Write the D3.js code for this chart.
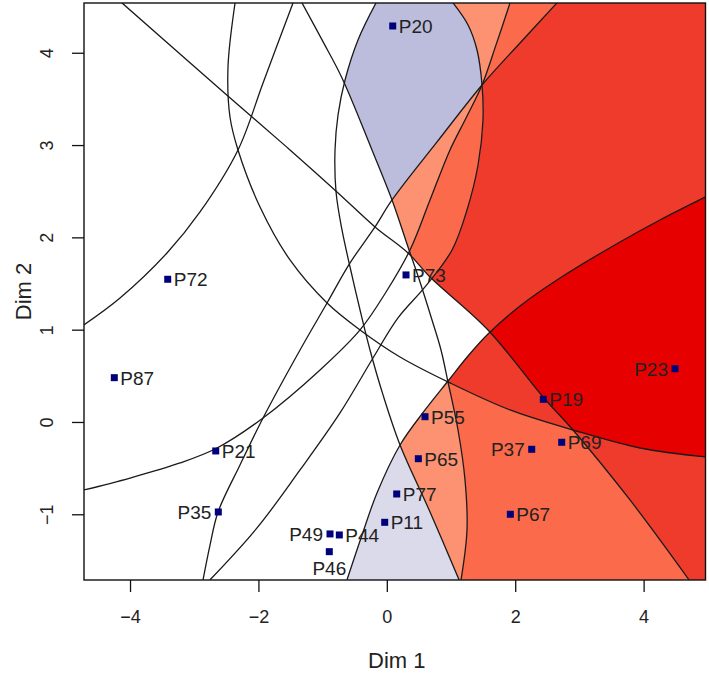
<!DOCTYPE html>
<html><head><meta charset="utf-8">
<script src="https://cdn.jsdelivr.net/npm/d3@7"></script>
<style>body{margin:0;background:#fff}text{font-family:"Liberation Sans",Arial,sans-serif}</style>
</head><body>
<svg id="chart" width="709" height="673"></svg>
<script>
// ---- data ----
const products = ["P20","P72","P87","P21","P35","P49","P44","P46","P11","P77","P65","P55","P73","P37","P69","P19","P67","P23"];
const dim1 = [0.092,-3.413,-4.245,-2.665,-2.625,-0.885,-0.740,-0.896,-0.033,0.154,0.491,0.595,0.299,2.257,2.724,2.438,1.924,4.489];
const dim2 = [4.290,1.546,0.480,-0.314,-0.975,-1.213,-1.224,-1.405,-1.087,-0.780,-0.398,0.057,1.593,-0.296,-0.220,0.246,-1.000,0.577];
const labelSide = ["right","right","right","right","left","left","right","below","right","right","right","right","right","left","right","right","right","left"];

const xTicks = [-4,-2,0,2,4];
const yTicks = [-1,0,1,2,3,4];

// contour curves (Dim 1, Dim 2)
const c1 = [[-4.125,4.54],[-2.458,3.521],[-1.508,2.947],[-0.776,2.492],[-0.184,2.113],[0.330,1.831],[0.673,1.571],[1.576,0.997],[2.433,0.271],[2.900,-0.087],[3.788,-0.845],[4.707,-1.71]];
const c3 = [[-2.364,4.54],[-2.474,3.846],[-2.443,3.304],[-2.318,2.947],[-1.975,2.329],[-1.508,1.755],[-0.931,1.289],[-0.417,0.997],[0.206,0.704],[0.984,0.423],[1.919,0.130],[2.900,-0.087],[3.944,-0.282],[4.965,-0.379]];
const c4 = [[-4.72,1.051],[-4.156,1.343],[-3.424,1.831],[-2.910,2.275],[-2.318,2.947],[-1.928,3.673],[-1.461,4.54]];
const c5 = [[-0.169,4.54],[-0.449,4.139],[-0.651,3.705],[-0.760,3.326],[-0.807,2.947],[-0.791,2.492],[-0.698,2.080],[-0.573,1.679],[-0.417,1.213],[-0.262,0.780],[-0.059,0.293],[0.206,-0.249],[0.673,-0.975],[1.125,-1.71]];
const c7 = [[-1.321,4.54],[-1.009,4.139],[-0.698,3.727],[-0.231,2.947],[0.081,2.405],[0.330,1.896],[0.517,1.517],[0.704,1.105],[0.844,0.780],[0.953,0.433],[1.109,-0.087],[1.218,-0.628],[1.249,-1.170],[1.156,-1.71]];
const c8 = [[-2.863,-1.71],[-2.754,-1.333],[-2.629,-0.975],[-2.287,-0.466],[-1.928,0.043],[-1.352,0.780],[-0.931,1.289],[-0.573,1.723],[-0.184,2.113],[0.081,2.405],[0.782,3.034],[1.483,3.651],[2.075,4.106],[2.651,4.54]];
const c9 = [[1.031,4.54],[1.265,4.301],[1.405,4.030],[1.483,3.651],[1.498,3.272],[1.421,2.784],[1.249,2.297],[1.016,1.863],[0.595,1.463],[0.174,1.127],[-0.215,0.693],[-0.729,0.098],[-1.352,-0.520],[-2.022,-1.148],[-2.754,-1.71]];
const c10 = [[1.919,4.54],[1.701,4.085],[1.483,3.651],[1.234,3.294],[0.984,2.947],[0.673,2.405],[0.361,1.863],[-0.012,1.408],[-0.417,0.997],[-1.040,0.563],[-1.928,0.043],[-2.645,-0.282],[-3.221,-0.444],[-4.000,-0.607],[-4.72,-0.737]];
const c11 = [[-0.620,-1.71],[-0.386,-1.224],[-0.153,-0.769],[0.206,-0.249],[0.595,0.130],[0.953,0.444],[1.265,0.715],[1.576,0.953],[2.075,1.257],[2.698,1.560],[3.632,1.950],[4.255,2.188],[4.965,2.438]];

const curveNames = ["c1","c3","c4","c5","c7","c8","c9","c10","c11"];
const curves = {c1,c3,c4,c5,c7,c8,c9,c10,c11};

// coloured zones: fill + the sides of curves (side = the one holding the named product)
const regionFills = ["#EF3B2C","#EF3B2C","#E60000","#FB6A4A","#FC9272","#DADAEB","#BCBDDC","#FC9272","#FC9272","#FB6A4A","#FB6A4A"];
const regionSides = [
  [["c1","P23"],["c8","P23"],["c9","P23"]],
  [["c11","P23"],["c3","P20"]],
  [["c11","P23"],["c3","P20"],["c1","P23"]],
  [["c11","P23"],["c3","P37"],["c1","P37"],["c7","P37"]],
  [["c11","P23"],["c5","P65"],["c7","P65"]],
  [["c11","P23"],["c5","P77"]],
  [["c9","P20"],["c8","P20"],["c7","P37"],["c5","P65"]],
  [["c9","P23"],["c10","P20"],["c8","P20"]],
  [["c8","P23"],["c10","P20"],["c7","P37"],["c9","P20"]],
  [["c10","P23"],["c8","P20"],["c1","P23"]],
  [["c10","P23"],["c9","P20"],["c8","P23"],["c1","P23"]]
];

// ---- layout ----
const svg = d3.select("#chart");
const x0 = 84, x1 = 705.5, y0 = 3, y1 = 580;
const x = d3.scaleLinear().domain([-4.717, 4.964]).range([x0, x1]);
const y = d3.scaleLinear().domain([-1.712, 4.539]).range([y1, y0]);
const lineGen = d3.line().x(d => d[0]).y(d => d[1]).curve(d3.curveCatmullRom.alpha(0.5));

const defs = svg.append("defs");
defs.append("clipPath").attr("id","plotclip").append("rect")
  .attr("x",x0).attr("y",y0).attr("width",x1-x0).attr("height",y1-y0);

const cornerPts = [[x0-6,y0-6],[x1+6,y0-6],[x1+6,y1+6],[x0-6,y1+6]];
function tOf(p){
  const [px,py]=p, Wd=x1-x0, Hd=y1-y0;
  const d=[Math.abs(py-y0),Math.abs(px-x1),Math.abs(py-y1),Math.abs(px-x0)];
  const e=d.indexOf(Math.min(...d));
  if(e===0) return (px-x0)/Wd;
  if(e===1) return 1+(py-y0)/Hd;
  if(e===2) return 2+(x1-px)/Wd;
  return 3+(y1-py)/Hd;
}
function walk(pts, dir){
  const tE=tOf(pts[pts.length-1]), tS=tOf(pts[0]), out=[];
  if(dir>0){ const target = tS>tE ? tS : tS+4; for(let k=Math.floor(tE)+1;k<target;k++) out.push(cornerPts[k%4]); }
  else { const target = tS<tE ? tS : tS-4; for(let k=Math.ceil(tE)-1;k>target;k--) out.push(cornerPts[((k%4)+4)%4]); }
  return out;
}
const made = {};
function sideClip(cn, ref){
  const key = cn+"_"+ref;
  if(made[key]) return key;
  const pts = curves[cn].map(d=>[x(d[0]),y(d[1])]);
  const i = products.indexOf(ref);
  const rp = [x(dim1[i]), y(dim2[i])];
  let corners = walk(pts, 1);
  if(!d3.polygonContains(pts.concat(corners), rp)) corners = walk(pts, -1);
  const d = lineGen(pts) + corners.map(c=>"L"+c[0]+","+c[1]).join("") + "Z";
  defs.append("clipPath").attr("id",key).append("path").attr("d",d);
  made[key]=true;
  return key;
}

const plotG = svg.append("g").attr("clip-path","url(#plotclip)");
plotG.append("rect").attr("x",x0).attr("y",y0).attr("width",x1-x0).attr("height",y1-y0).attr("fill","#fff");

regionSides.forEach((sides, ri)=>{
  let g = plotG;
  sides.forEach(([cn,ref])=>{ g = g.append("g").attr("clip-path",`url(#${sideClip(cn,ref)})`); });
  g.append("rect").attr("x",x0-10).attr("y",y0-10).attr("width",x1-x0+20).attr("height",y1-y0+20)
    .attr("fill",regionFills[ri]);
});

// contour curves
plotG.selectAll("path.curve").data(curveNames).join("path").attr("class","curve")
  .attr("d", cn => lineGen(curves[cn].map(d=>[x(d[0]),y(d[1])])))
  .attr("fill","none").attr("stroke","#1a1a1a").attr("stroke-width",1.3);

// product points
const pts = products.map((p,i)=>({p, vx:dim1[i], vy:dim2[i], side:labelSide[i]}));
plotG.selectAll("rect.pt").data(pts).join("rect").attr("class","pt")
  .attr("x",d=>x(d.vx)-3.5).attr("y",d=>y(d.vy)-3.5).attr("width",7).attr("height",7).attr("fill","#00007a");
svg.selectAll("text.lab").data(pts).join("text").attr("class","lab")
  .attr("x",d=> d.side==="right" ? x(d.vx)+6 : d.side==="left" ? x(d.vx)-7 : x(d.vx))
  .attr("y",d=> d.side==="below" ? y(d.vy)+23 : y(d.vy)+7)
  .attr("text-anchor",d=> d.side==="right" ? "start" : d.side==="left" ? "end" : "middle")
  .attr("font-size","19px").attr("fill","#222").text(d=>d.p);

// frame
svg.append("rect").attr("x",x0).attr("y",y0).attr("width",x1-x0).attr("height",y1-y0)
  .attr("fill","none").attr("stroke","#111").attr("stroke-width",1.4);

// axes
const fmt = d3.format("d");
const xa = svg.append("g").attr("transform",`translate(0,${y1})`)
  .call(d3.axisBottom(x).tickValues(xTicks).tickFormat(fmt).tickSize(12).tickPadding(18));
xa.select(".domain").remove();
xa.selectAll("line").attr("stroke","#111").attr("stroke-width",1.3);
xa.selectAll("text").attr("font-size","18px").attr("fill","#222").style("font-family","'Liberation Sans',Arial,sans-serif");

const ya = svg.append("g").attr("transform",`translate(${x0},0)`)
  .call(d3.axisLeft(y).tickValues(yTicks).tickFormat(fmt).tickSize(12));
ya.select(".domain").remove();
ya.selectAll("line").attr("stroke","#111").attr("stroke-width",1.3);
ya.selectAll("text").attr("x",0).attr("dy",null).attr("text-anchor","middle")
  .attr("transform","translate(-31,0) rotate(-90)")
  .attr("font-size","18px").attr("fill","#222").style("font-family","'Liberation Sans',Arial,sans-serif");

svg.append("text").attr("x",(x0+x1)/2+2).attr("y",668).attr("text-anchor","middle")
  .attr("font-size","22px").attr("fill","#222").text("Dim 1");
svg.append("text").attr("transform",`translate(31,${(y0+y1)/2}) rotate(-90)`).attr("text-anchor","middle")
  .attr("font-size","22px").attr("fill","#222").text("Dim 2");
</script>
</body></html>
